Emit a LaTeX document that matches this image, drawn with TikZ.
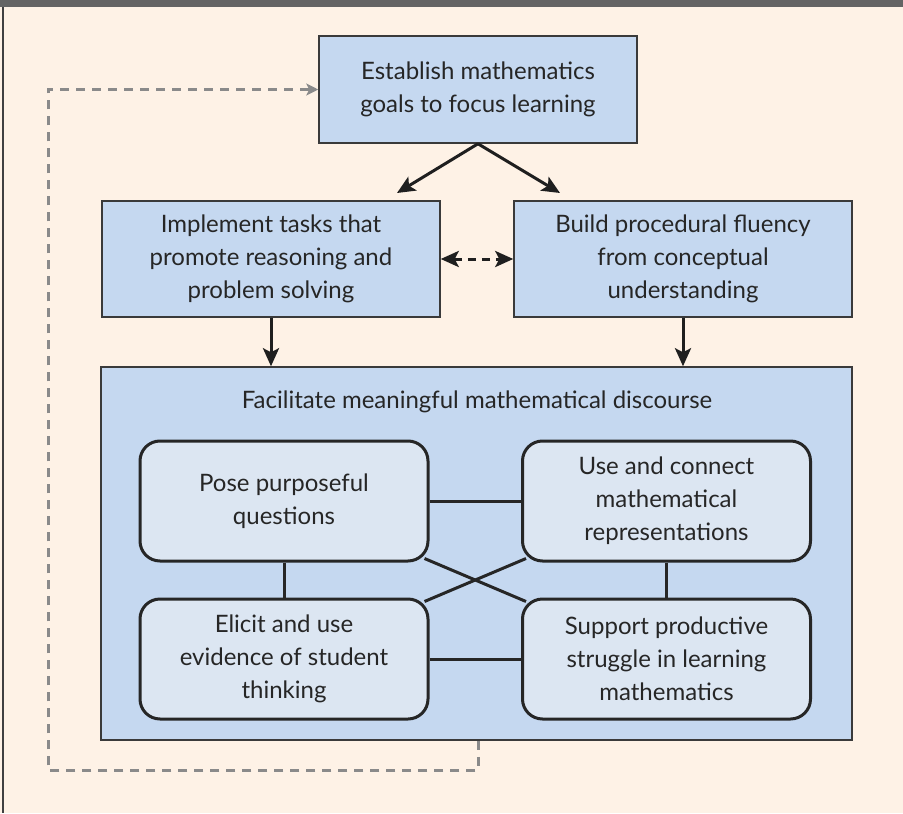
\documentclass[tikz,border=0pt]{standalone}
\usepackage{fontspec}
\setmainfont{Lato}
\usetikzlibrary{arrows.meta,calc}
\definecolor{peach}{HTML}{FEF2E6}
\definecolor{topbar}{HTML}{646464}
\definecolor{outerblue}{HTML}{C5D8F0}
\definecolor{innerblue}{HTML}{DCE6F2}
\definecolor{edge}{HTML}{3A3A3A}
\definecolor{txt}{HTML}{262626}
\definecolor{fbgray}{HTML}{8A8A8A}
\begin{document}
\begin{tikzpicture}[x=1pt,y=-1pt,
  every node/.style={font=\fontsize{24}{33}\selectfont, text=txt, align=center, inner sep=0pt},
  bluebox/.style={draw=edge, line width=1.5pt, fill=outerblue},
  innerbox/.style={draw=black!85, line width=3pt, fill=innerblue, rounded corners=20pt, minimum width=288pt, minimum height=120pt},
  arr/.style={line width=3pt, draw=black!88, -{Stealth[length=18pt,width=16pt,inset=4pt]}},
  darr/.style={line width=3pt, draw=black!88, dash pattern=on 8pt off 6pt, {Stealth[length=18pt,width=16pt,inset=4pt]}-{Stealth[length=18pt,width=16pt,inset=4pt]}},
  link/.style={line width=3pt, draw=black!85},
  fb/.style={line width=3pt, draw=fbgray, dash pattern=on 9pt off 7pt, -{Stealth[length=12pt,width=12pt,inset=3pt]}}
]
% background and frame
\fill[peach] (0,0) rectangle (903,813);
\fill[topbar] (0,0) rectangle (903,7);
\draw[line width=2pt, draw=black!75] (3,7) -- (3,813);
\useasboundingbox (0,0) rectangle (903,813);

% top boxes
\node[bluebox, minimum width=318pt, minimum height=107pt] (goals) at (478,89.5) {Establish mathematics\\goals to focus learning};
\node[bluebox, minimum width=338pt, minimum height=116pt] (impl) at (271,259) {Implement tasks that\\promote reasoning and\\problem solving};
\node[bluebox, minimum width=338pt, minimum height=116pt] (build) at (683,259) {Build procedural fluency\\from conceptual\\understanding};

% discourse box
\node[bluebox, minimum width=751pt, minimum height=373pt] (disc) at (476.5,553.5) {};
\node (disctitle) at (477,402) {Facilitate meaningful mathematical discourse};

% inner boxes
\node[innerbox] (pose) at (284,501) {Pose purposeful\\questions};
\node[innerbox] (use) at (666.5,501) {Use and connect\\mathematical\\representations};
\node[innerbox] (elicit) at (284,659) {Elicit and use\\evidence of student\\thinking};
\node[innerbox] (support) at (666.5,659) {Support productive\\struggle in learning\\mathematics};

% links among inner boxes
\draw[link] (pose.east) -- (use.west);
\draw[link] (elicit.east) -- (support.west);
\draw[link] (pose.south) -- (elicit.north);
\draw[link] (use.south) -- (support.north);
\draw[link] ($(pose.south east)+(-5,-4)$) -- ($(support.north west)+(5,4)$);
\draw[link] ($(elicit.north east)+(-5,4)$) -- ($(use.south west)+(5,-4)$);

% arrows
\coordinate (t1) at (397,193);
\coordinate (t2) at (560,193);
\draw[arr] (goals.south) -- (t1);
\draw[arr] (goals.south) -- (t2);
\draw[darr] (impl.east) -- (build.west);
\draw[arr] (impl.south) -- (impl.south |- disc.north);
\draw[arr] (build.south) -- (build.south |- disc.north);

% feedback loop
\coordinate (fb0) at (goals.south |- disc.south);
\coordinate (fb1) at (478,770);
\coordinate (fb2) at (48,770);
\coordinate (fb3) at (48,89.5);
\draw[fb, line join=miter] (fb0) -- (fb1) -- (fb2) -- (fb3) -- (goals.west);
\end{tikzpicture}
\end{document}
